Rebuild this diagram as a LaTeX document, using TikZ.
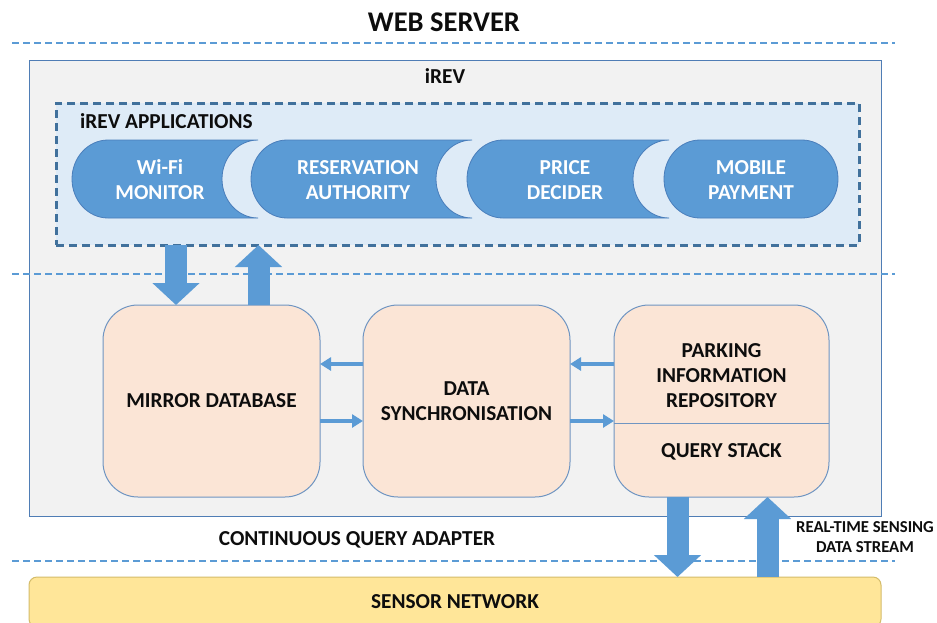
\documentclass[tikz,border=0pt]{standalone}
\usepackage{fontspec}
\setmainfont{Carlito}
\usetikzlibrary{arrows.meta,calc}

\definecolor{accent}{HTML}{5B9BD5}
\definecolor{appsfill}{HTML}{DEEBF7}
\definecolor{appsedge}{HTML}{41719C}
\definecolor{irevfill}{HTML}{F2F2F2}
\definecolor{irevedge}{HTML}{4F7DB5}
\definecolor{peach}{HTML}{FBE5D6}
\definecolor{peachedge}{HTML}{6F95C2}
\definecolor{pilledge}{HTML}{4A7EBB}
\definecolor{sensorfill}{HTML}{FFE699}
\definecolor{sensoredge}{HTML}{D4BC6A}
\definecolor{ink}{HTML}{0D0D0D}

\tikzset{
  txt/.style={font=\fontsize{21.3}{25}\selectfont\bfseries, text=ink, align=center, inner sep=0pt},
  pilltxt/.style={font=\fontsize{21.3}{25}\selectfont\bfseries, text=white, align=center, inner sep=0pt},
  smalltxt/.style={font=\fontsize{16.7}{20}\selectfont\bfseries, text=ink, align=center, inner sep=0pt},
  layerline/.style={draw=accent, line width=1.5pt, dash pattern=on 7pt off 4pt},
  pillshape/.style={fill=accent, draw=pilledge, line width=0.8pt},
  storebox/.style={draw=peachedge, fill=peach, line width=1pt, rounded corners=35pt,
    minimum height=192pt, inner sep=0pt, outer sep=0pt},
  bigarrow/.style={draw=accent, line width=22pt, -{Triangle[length=22pt,width=46pt]}},
  thinarrow/.style={draw=accent, line width=3.5pt, -{Triangle[length=11pt,width=13pt]}},
}

\begin{document}
\begin{tikzpicture}[x=1pt,y=-1pt]
\useasboundingbox (0,0) rectangle (937,622);
\fill[white] (0,0) rectangle (937,622);

% outer application container
\node[draw=irevedge, fill=irevfill, line width=0.8pt, minimum width=852pt, minimum height=456pt,
      inner sep=0pt, outer sep=0pt] (irev) at (455,288) {};

% tier separators
\coordinate (l1a) at (12,43);  \coordinate (l1b) at (895,43);
\coordinate (l2a) at (12,274); \coordinate (l2b) at (895,274);
\coordinate (l3a) at (12,561); \coordinate (l3b) at (895,561);
\draw[layerline] (l1a) -- (l1b);
\draw[layerline] (l2a) -- (l2b);
\draw[layerline] (l3a) -- (l3b);

% titles
\node[txt, font=\fontsize{28.5}{32}\selectfont\bfseries] (title) at (444,22) {WEB SERVER};
\node[txt] (irevlabel) at (445,76) {iREV};

% applications group
\node[draw=appsedge, fill=appsfill, line width=3pt, dash pattern=on 8pt off 5pt,
      minimum width=803pt, minimum height=142pt, inner sep=0pt, outer sep=0pt] (apps) at (457.5,174) {};
\node[txt, anchor=west] (appslabel) at (80,121) {iREV APPLICATIONS};

% application pills
\path[pillshape] (258,140) -- (108,140) arc[start angle=90,end angle=270,x radius=36pt,y radius=39pt]
  -- (258,218) arc[start angle=270,end angle=90,x radius=36pt,y radius=39pt] -- cycle;
\path[pillshape] (472,140) -- (287,140) arc[start angle=90,end angle=270,x radius=36pt,y radius=39pt]
  -- (472,218) arc[start angle=270,end angle=90,x radius=36pt,y radius=39pt] -- cycle;
\path[pillshape] (669,140) -- (503,140) arc[start angle=90,end angle=270,x radius=36pt,y radius=39pt]
  -- (669,218) arc[start angle=270,end angle=90,x radius=36pt,y radius=39pt] -- cycle;
\path[pillshape] (700,140) -- (802,140) arc[start angle=90,end angle=-90,x radius=36pt,y radius=39pt]
  -- (700,218) arc[start angle=270,end angle=90,x radius=36pt,y radius=39pt] -- cycle;

\node[pilltxt] (wifi) at (160,180) {Wi-Fi\\MONITOR};
\node[pilltxt] (resv) at (358,180) {RESERVATION\\AUTHORITY};
\node[pilltxt] (price) at (565,180) {PRICE\\DECIDER};
\node[pilltxt] (mobile) at (751,180) {MOBILE\\PAYMENT};

% storage and processing blocks
\node[storebox, minimum width=217pt] (mirror) at (211.5,401) {};
\node[txt] at (mirror.center) {MIRROR DATABASE};
\node[storebox, minimum width=207pt] (sync) at (466.5,401) {};
\node[txt] at (sync.center) {DATA\\SYNCHRONISATION};
\node[storebox, minimum width=215pt] (parking) at (721.5,401) {};
\coordinate (split) at (0,423);
\draw[draw=peachedge, line width=1pt] (parking.west |- split) -- (parking.east |- split);
\node[txt] (repo) at (721.5,376) {PARKING\\INFORMATION\\REPOSITORY};
\node[txt] (qstack) at (721.5,452) {QUERY STACK};

% sensor layer
\node[draw=sensoredge, fill=sensorfill, line width=1pt, rounded corners=8pt,
      minimum width=852pt, minimum height=50pt, inner sep=0pt, outer sep=0pt] (sensor) at (455,602) {};
\node[txt] at (sensor.center) {SENSOR NETWORK};

\node[txt] (cqa) at (357,540) {CONTINUOUS QUERY ADAPTER};
\node[smalltxt] (stream) at (865,537) {REAL-TIME SENSING\\DATA STREAM};

% block arrows between tiers
\coordinate (c1) at (176,0);
\coordinate (c2) at (258.5,0);
\coordinate (c3) at (677.5,0);
\coordinate (c4) at (767.5,0);
\draw[bigarrow] (apps.south -| c1) -- (mirror.north -| c1);
\draw[bigarrow] (mirror.north -| c2) -- (apps.south -| c2);
\draw[bigarrow] (parking.south -| c3) -- (sensor.north -| c3);
\draw[bigarrow] (sensor.north -| c4) -- (parking.south -| c4);

% data flow between blocks
\coordinate (r1) at (0,364);
\coordinate (r2) at (0,421);
\draw[thinarrow] (sync.west |- r1) -- (mirror.east |- r1);
\draw[thinarrow] (mirror.east |- r2) -- (sync.west |- r2);
\draw[thinarrow] (parking.west |- r1) -- (sync.east |- r1);
\draw[thinarrow] (sync.east |- r2) -- (parking.west |- r2);
\end{tikzpicture}
\end{document}
